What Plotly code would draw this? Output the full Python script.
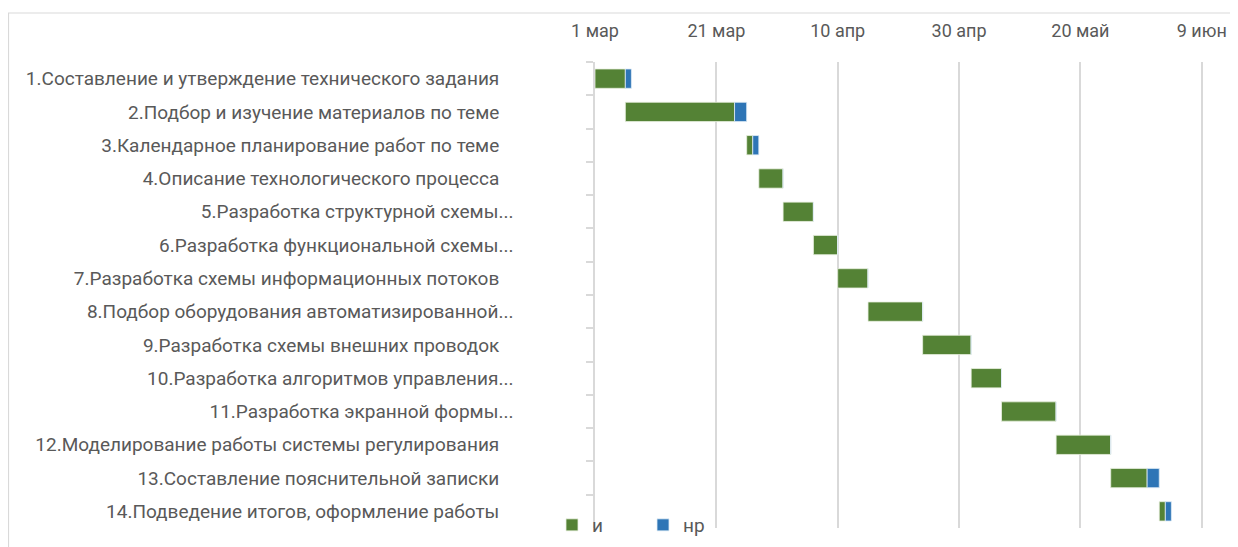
import plotly.graph_objects as go

NB = "\u00a0"
tasks = [
    "1.Составление и утверждение технического задания" + NB * 3,
    "2.Подбор и изучение материалов по теме" + NB * 3,
    "3.Календарное планирование работ по теме" + NB * 3,
    "4.Описание технологического процесса" + NB * 3,
    "5.Разработка структурной схемы...",
    "6.Разработка функциональной схемы...",
    "7.Разработка схемы информационных потоков" + NB * 3,
    "8.Подбор оборудования автоматизированной...",
    "9.Разработка схемы внешних проводок" + NB * 3,
    "10.Разработка алгоритмов управления...",
    "11.Разработка экранной формы...",
    "12.Моделирование работы системы регулирования" + NB * 3,
    "13.Составление пояснительной записки" + NB * 3,
    "14.Подведение итогов, оформление работы" + NB * 3,
]
# start day (days after 1 March), duration of "и" and "нр" in days
start = [0, 5, 25, 27, 31, 36, 40, 45, 54, 62, 67, 76, 85, 93]
dur_i = [5, 18, 1, 4, 5, 4, 5, 9, 8, 5, 9, 9, 6, 1]
dur_nr = [1, 2, 1, 0, 0, 0, 0, 0, 0, 0, 0, 0, 2, 1]

tick_days = [0, 20, 40, 60, 80, 100]
tick_labels = ["1 мар", "21 мар", "10 апр", "30 апр", "20 май", "9 июн"]

# page body has an 8px margin, so the figure is drawn 8px in from the window
W, H = 1230, 539
ML, MT, MB = 587, 54, 19
PX_PER_DAY = (1193.7 - ML) / 100
x_max = 104
MR = W - ML - round(x_max * PX_PER_DAY)

font = "Roboto, 'Open Sans', sans-serif"
gray = "#595959"

fig = go.Figure()
fig.add_trace(go.Bar(
    name="и", y=tasks, x=dur_i, base=start, orientation="h",
    marker=dict(color="#548235", line=dict(color="#e8f0e0", width=0.8)),
    width=0.58,
))
fig.add_trace(go.Bar(
    name="нр", y=tasks, x=dur_nr,
    base=[s + d for s, d in zip(start, dur_i)], orientation="h",
    marker=dict(color="#2E75B6", line=dict(color="#e0ecf6", width=0.8)),
    width=0.58,
))

pw = W - ML - MR
ph = H - MT - MB
fig.add_shape(type="rect", xref="paper", yref="paper",
              x0=(0.5 - ML) / pw, x1=(W + 5 - ML) / pw,
              y0=-(MB + 5) / ph, y1=1 + (MT - 5) / ph,
              line=dict(color="#d9d9d9", width=1.2), fillcolor="rgba(0,0,0,0)",
              layer="below")

fig.update_layout(
    width=W, height=H,
    margin=dict(l=ML, r=MR, t=MT, b=MB, autoexpand=False),
    paper_bgcolor="white", plot_bgcolor="white",
    barmode="overlay",
    font=dict(family=font, size=18, color=gray),
    showlegend=True,
    legend=dict(orientation="h",
                x=(544 - ML) / pw, y=(H - MB - 498) / ph, xanchor="left", yanchor="top",
                bgcolor="rgba(0,0,0,0)", entrywidth=46, entrywidthmode="pixels",
                font=dict(size=19, color=gray), itemclick=False),
    xaxis=dict(side="top", range=[0, x_max], tickvals=tick_days, ticktext=tick_labels,
               showgrid=True, gridcolor="#d9d9d9", gridwidth=1.5,
               zeroline=False, showline=False, ticks="", ticklabelstandoff=20,
               tickfont=dict(size=18, color=gray)),
    yaxis=dict(autorange="reversed", type="category", showgrid=False,
               showline=True, linecolor="#d9d9d9", linewidth=1.5,
               ticks="outside", tickson="boundaries", ticklen=7, tickcolor="#d9d9d9",
               tickwidth=1.5, ticklabelstandoff=76,
               tickfont=dict(size=19, color=gray)),
)

fig.write_html("out.html")
